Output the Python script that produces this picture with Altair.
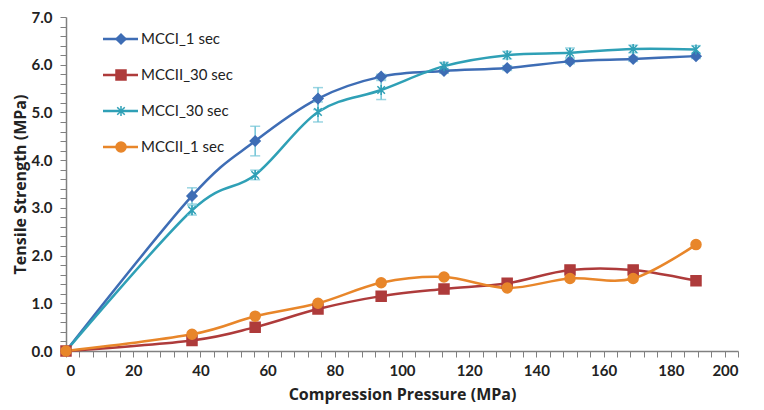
import altair as alt
import pandas as pd

pressure = [0, 37.5, 56.3, 75, 93.8, 112.5, 131.3, 150, 168.8, 187.5]
series_names = ["MCCI_1 sec", "MCCII_30 sec", "MCCI_30 sec", "MCCII_1 sec"]
mcci_1 = [0, 3.25, 4.40, 5.29, 5.75, 5.87, 5.93, 6.07, 6.12, 6.18]
mcci_1_err = [0, 0.17, 0.31, 0.23, 0.05, 0.05, 0.05, 0.05, 0.05, 0.05]
mccii_30 = [0, 0.22, 0.50, 0.88, 1.15, 1.30, 1.42, 1.70, 1.70, 1.47]
mcci_30 = [0, 2.95, 3.69, 5.01, 5.47, 5.97, 6.20, 6.25, 6.33, 6.32]
mcci_30_err = [0, 0.10, 0.10, 0.21, 0.20, 0.08, 0.08, 0.10, 0.08, 0.08]
mccii_1 = [0, 0.35, 0.73, 1.00, 1.43, 1.55, 1.32, 1.52, 1.52, 2.23]

colors = ["#3E6DB5", "#AE3B3B", "#2FA0B6", "#E8862A"]
err_color = "#6FC3D6"
asterisk = "M0,-1L0,1M-0.75,-0.75L0.75,0.75M-0.75,0.75L0.75,-0.75"
shapes = ["diamond", "square", asterisk, "circle"]

rows = []
for name, vals in zip(series_names, [mcci_1, mccii_30, mcci_30, mccii_1]):
    for p, v in zip(pressure, vals):
        rows.append({"series": name, "p": p, "v": v})
df = pd.DataFrame(rows)

err_rows = []
for name, vals, errs in [("MCCI_1 sec", mcci_1, mcci_1_err), ("MCCI_30 sec", mcci_30, mcci_30_err)]:
    for p, v, e in zip(pressure, vals, errs):
        if e > 0:
            err_rows.append({"series": name, "p": p, "lo": v - e, "hi": v + e})
edf = pd.DataFrame(err_rows)

FONT = "Lato"
TFONT = "Open Sans"
color_scale = alt.Scale(domain=series_names, range=colors)
shape_scale = alt.Scale(domain=series_names, range=shapes)

xvals = list(range(0, 201, 4))
yvals = [round(i * 0.2, 1) for i in range(0, 36)]

x_enc = alt.X("p:Q", scale=alt.Scale(domain=[0, 200], nice=False),
              axis=alt.Axis(values=xvals, tickCount=500, title="Compression Pressure (MPa)",
                            format="d",
                            labelExpr="datum.value % 20 == 0 ? format(datum.value, 'd') : ''",
                            labelOverlap=False, grid=False, tickSize=6,
                            labelPadding=6, titlePadding=8))
y_enc = alt.Y("v:Q", scale=alt.Scale(domain=[0, 7], nice=False),
              axis=alt.Axis(values=yvals, tickCount=500, title="Tensile Strength (MPa)",
                            labelExpr="abs(datum.value - round(datum.value)) < 0.01 ? format(datum.value, '.1f') : ''",
                            labelOverlap=False, grid=False, tickSize=6,
                            labelPadding=8, titlePadding=3))

base = alt.Chart(df)
lines = base.mark_line(interpolate="cardinal", strokeWidth=2.5).encode(
    x=x_enc, y=y_enc,
    color=alt.Color("series:N", scale=color_scale, legend=None),
    detail="series:N",
)
points = base.mark_point(filled=True, strokeWidth=1.5, opacity=1).encode(
    x="p:Q", y="v:Q",
    color=alt.Color("series:N", scale=color_scale, legend=None),
    stroke=alt.Stroke("series:N", scale=color_scale, legend=None),
    shape=alt.Shape("series:N", scale=shape_scale, legend=None),
    size=alt.value(100),
)
ebase = alt.Chart(edf)
erule = ebase.mark_rule(color=err_color, strokeWidth=1.5).encode(
    x="p:Q", y=alt.Y("lo:Q"), y2="hi:Q")
ecap_lo = ebase.mark_tick(color=err_color, orient="horizontal", size=10, thickness=1.5).encode(
    x="p:Q", y="lo:Q")
ecap_hi = ebase.mark_tick(color=err_color, orient="horizontal", size=10, thickness=1.5).encode(
    x="p:Q", y="hi:Q")

main = alt.layer(lines, erule, ecap_lo, ecap_hi, points)

ldf = pd.DataFrame({"series": series_names})
ly = alt.Y("series:N", scale=alt.Scale(type="point", domain=series_names, range=[22, 130], padding=0), axis=None)
lbase = alt.Chart(ldf)
lrule = lbase.mark_rule(strokeWidth=2.5).encode(
    x=alt.value(37), x2=alt.value(72), y=ly,
    color=alt.Color("series:N", scale=color_scale, legend=None))
lpt = lbase.mark_point(filled=True, strokeWidth=1.5, opacity=1).encode(
    x=alt.value(55), y=ly,
    color=alt.Color("series:N", scale=color_scale, legend=None),
    stroke=alt.Stroke("series:N", scale=color_scale, legend=None),
    shape=alt.Shape("series:N", scale=shape_scale, legend=None),
    size=alt.value(100))
ltxt = lbase.mark_text(align="left", baseline="middle", font=FONT, fontSize=15, color="#222222").encode(
    x=alt.value(75), y=ly, text="series:N")
legend = alt.layer(lrule, lpt, ltxt)

chart = alt.layer(main, legend).resolve_scale(y="independent").properties(
    width=672, height=334,
    padding={"left": 4, "top": 2, "right": 0, "bottom": 3},
).configure_view(stroke=None).configure_axis(
    labelFont=FONT, labelFontSize=15, labelFontWeight="bold", labelColor="#222222",
    titleFont=TFONT, titleFontSize=16, titleFontWeight="bold", titleColor="#222222",
    domainColor="#808080", tickColor="#808080", domainWidth=1.5,
)

chart.save("out.html", embed_options={"renderer": "svg", "actions": False})
